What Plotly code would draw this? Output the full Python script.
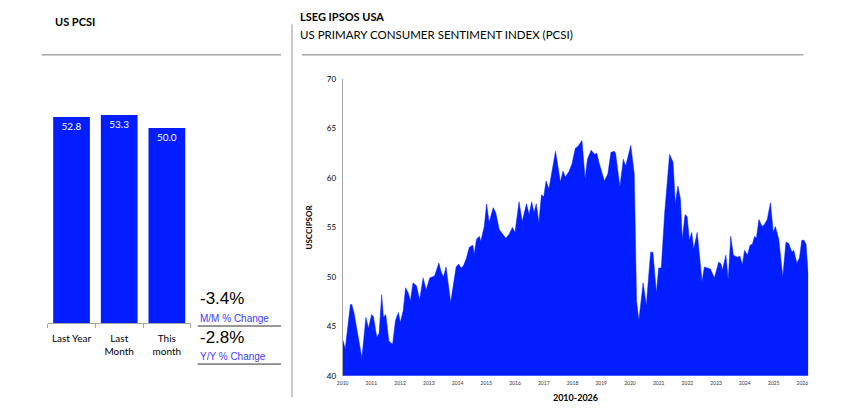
import plotly.graph_objects as go

# left panel: summary bars
bar_labels = ["Last Year", "Last<br>Month", "This<br>month"]
bar_values = [52.8, 53.3, 50.0]
mm_change = "-3.4%"
yy_change = "-2.8%"

# right panel: PCSI history (decimal year, index)
year_frac = [
    2010.01, 2010.09, 2010.27, 2010.32, 2010.40, 2010.47, 2010.67, 2010.81, 2010.90,
    2011.01, 2011.07, 2011.19, 2011.27, 2011.36, 2011.42, 2011.50, 2011.61, 2011.74,
    2011.84, 2011.94, 2012.01, 2012.11, 2012.19, 2012.28, 2012.36, 2012.45, 2012.57,
    2012.68, 2012.80, 2012.91, 2013.03, 2013.20, 2013.35, 2013.43, 2013.51, 2013.60,
    2013.76, 2013.95, 2014.04, 2014.12, 2014.20, 2014.30, 2014.41, 2014.53, 2014.58,
    2014.66, 2014.76, 2014.81, 2014.93, 2015.01, 2015.10, 2015.24, 2015.33, 2015.45,
    2015.68, 2015.79, 2015.91, 2016.00, 2016.14, 2016.25, 2016.40, 2016.49, 2016.58,
    2016.66, 2016.74, 2016.83, 2016.92, 2017.00, 2017.08, 2017.18, 2017.29, 2017.41,
    2017.58, 2017.67, 2017.75, 2017.87, 2017.98, 2018.10, 2018.19, 2018.33, 2018.44,
    2018.52, 2018.65, 2018.77, 2018.85, 2018.93, 2019.11, 2019.23, 2019.34, 2019.46,
    2019.50, 2019.65, 2019.77, 2019.85, 2020.03, 2020.15, 2020.23, 2020.31, 2020.46,
    2020.57, 2020.72, 2020.80, 2020.92, 2021.00, 2021.09, 2021.21, 2021.38, 2021.50,
    2021.58, 2021.67, 2021.76, 2021.82, 2021.92, 2021.99, 2022.07, 2022.15, 2022.22,
    2022.34, 2022.42, 2022.51, 2022.59, 2022.71, 2022.80, 2022.94, 2023.09, 2023.17,
    2023.22, 2023.34, 2023.42, 2023.51, 2023.60, 2023.74, 2023.83, 2023.91, 2023.99,
    2024.09, 2024.18, 2024.26, 2024.34, 2024.40, 2024.49, 2024.60, 2024.68, 2024.78,
    2024.89, 2024.99, 2025.06, 2025.18, 2025.32, 2025.43, 2025.52, 2025.64, 2025.70,
    2025.81, 2025.90, 2025.98, 2026.06, 2026.13, 2026.21,
]
pcsi = [
    43.6, 42.7, 47.2, 47.2, 46.3, 45.1, 41.8, 45.9, 44.8,
    46.2, 46.0, 43.9, 44.3, 48.2, 45.9, 46.2, 43.5, 43.2,
    45.6, 46.4, 45.4, 46.6, 48.9, 48.4, 47.6, 49.4, 49.1,
    47.7, 49.9, 48.7, 49.9, 50.1, 51.4, 50.5, 50.0, 51.0,
    47.4, 51.0, 51.3, 50.9, 51.1, 51.8, 53.0, 53.2, 52.3,
    53.8, 54.1, 53.6, 55.1, 57.4, 55.5, 57.0, 56.5, 54.8,
    53.9, 54.3, 55.0, 54.5, 57.6, 55.6, 57.4, 56.3, 57.6,
    56.5, 57.4, 55.5, 58.3, 58.1, 59.7, 58.9, 60.7, 62.7,
    59.6, 60.7, 60.1, 60.6, 61.4, 63.0, 63.2, 63.8, 59.9,
    61.9, 62.8, 62.4, 62.5, 61.5, 59.7, 60.4, 62.6, 62.7,
    62.5, 59.1, 61.9, 61.2, 63.3, 60.4, 47.6, 45.6, 49.4,
    47.1, 52.5, 52.5, 48.4, 50.9, 50.9, 56.5, 62.4, 61.6,
    57.4, 59.2, 57.8, 53.8, 56.3, 56.1, 53.7, 54.5, 52.8,
    54.5, 52.2, 49.5, 51.0, 50.9, 50.8, 49.9, 51.5, 51.3,
    50.7, 52.2, 49.7, 54.1, 52.2, 52.0, 52.1, 51.2, 52.7,
    52.2, 53.2, 53.3, 54.1, 53.9, 55.8, 55.1, 55.3, 55.8,
    57.5, 54.5, 55.1, 53.8, 50.0, 53.5, 53.4, 52.5, 52.7,
    51.4, 51.9, 53.7, 53.7, 53.3, 50.0,
]
years = list(range(2010, 2027))

W, H = 859, 412
BLUE = "#001EFF"
GRAY = "#a6a6a6"


def px(x):
    return x / W


def py(y):
    return 1 - y / H


fig = go.Figure()

fig.add_trace(go.Bar(
    x=bar_labels, y=bar_values, marker_color=BLUE, marker_line_width=0,
    texttemplate="%{y:.1f}", textposition="inside", insidetextanchor="end",
    textfont=dict(color="white", size=10, family="Lato"),
    xaxis="x", yaxis="y", hoverinfo="skip",
))

fig.add_trace(go.Scatter(
    x=year_frac, y=pcsi, mode="lines", fill="tozeroy",
    line=dict(color=BLUE, width=0.5), fillcolor=BLUE,
    xaxis="x2", yaxis="y2", hoverinfo="skip",
))

fig.update_layout(
    width=W, height=H, margin=dict(l=0, r=0, t=0, b=0),
    paper_bgcolor="white", plot_bgcolor="white", showlegend=False,
    bargap=0.23,
    xaxis=dict(domain=[px(42), px(186)], anchor="y", showline=True, linecolor=GRAY,
               ticks="outside", tickson="boundaries", ticklen=4, tickcolor=GRAY,
               tickangle=0, ticklabelstandoff=6,
               tickfont=dict(size=10, family="Lato", color="black"),
               showgrid=False, fixedrange=True),
    yaxis=dict(domain=[py(326), py(76)], anchor="x", range=[0, 62.5], visible=False,
               showgrid=False),
    xaxis2=dict(domain=[px(339), px(808)], anchor="y2", range=[2010, 2026.21],
                tickvals=years, ticktext=[str(y) for y in years],
                tickfont=dict(size=5, family="Lato", color="#333"),
                showgrid=False, zeroline=False, showline=False, ticks="",
                ticklabelstandoff=3,
                title=dict(text="<b>2010-2026</b>", standoff=9,
                           font=dict(size=9, family="Lato", color="black"))),
    yaxis2=dict(domain=[py(380), py(76)], anchor="x2", range=[40, 70], dtick=5,
                showline=True, linecolor=GRAY, linewidth=1,
                tickfont=dict(size=8, family="Lato", color="black"),
                showgrid=False, zeroline=False, ticks="", ticklabelstandoff=4,
                title=dict(text="<b>USCCIPSOR</b>", standoff=12,
                           font=dict(size=8, family="Lato", color="black"))),
)

shapes = [
    dict(type="line", xref="paper", yref="paper", x0=px(36), x1=px(277),
         y0=py(51), y1=py(51), line=dict(color=GRAY, width=1.5)),
    dict(type="line", xref="paper", yref="paper", x0=px(298), x1=px(803),
         y0=py(51), y1=py(51), line=dict(color=GRAY, width=1.5)),
    dict(type="line", xref="paper", yref="paper", x0=px(288), x1=px(288),
         y0=py(20), y1=py(402), line=dict(color=GRAY, width=1.2)),
    dict(type="line", xref="paper", yref="paper", x0=px(193), x1=px(277),
         y0=py(329), y1=py(329), line=dict(color="#333", width=1)),
    dict(type="line", xref="paper", yref="paper", x0=px(193), x1=px(277),
         y0=py(368), y1=py(368), line=dict(color="#333", width=1)),
]
fig.update_layout(shapes=shapes)


def note(x, y, text, size, color="black", family="Lato"):
    fig.add_annotation(x=px(x), y=py(y), xref="paper", yref="paper",
                       text=text, showarrow=False, xanchor="left", yanchor="middle",
                       font=dict(size=size, color=color, family=family))


note(47, 17, "<b>US PCSI</b>", 11)
note(294, 12, "<b>LSEG IPSOS USA</b>", 11)
note(294, 30, "US PRIMARY CONSUMER SENTIMENT INDEX (PCSI)", 11.5)
note(193, 301, mm_change, 17, family="Liberation Sans")
note(193, 321, "M/M % Change", 10, color="#3c3cff", family="Liberation Sans")
note(193, 341, yy_change, 17, family="Liberation Sans")
note(193, 360, "Y/Y % Change", 10, color="#3c3cff", family="Liberation Sans")

# no page margin / scrollbars, so the figure sits at the window's top-left corner
fig.write_html(
    "out.html",
    config={"displayModeBar": False},
    post_script="document.body.style.margin='0';"
                "document.documentElement.style.overflow='hidden';",
)
